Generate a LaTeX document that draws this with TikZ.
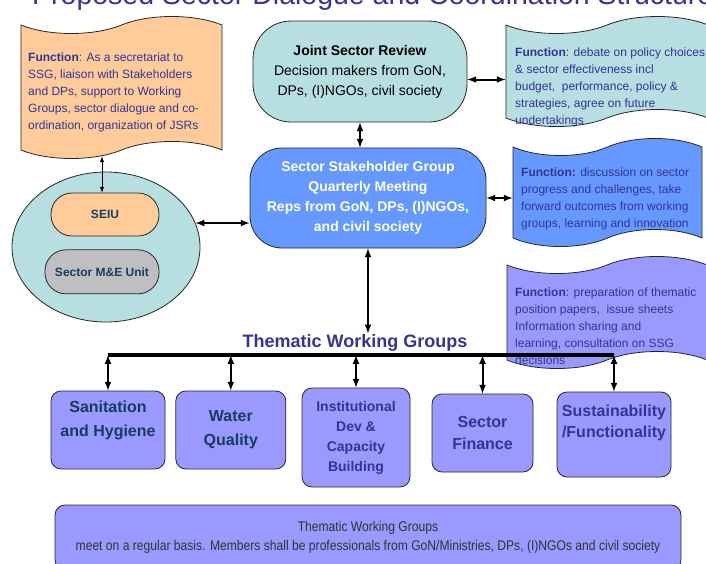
\documentclass[tikz,border=0pt]{standalone}
\usepackage{fontspec}
\setmainfont{Liberation Sans}
\newfontfamily\narrowfont[FakeStretch=0.865]{Liberation Sans}
\usepackage{tikz}
\usetikzlibrary{shapes,arrows,positioning}
\definecolor{tblue}{RGB}{51, 51, 153}
\definecolor{navy}{RGB}{24, 60, 96}
\definecolor{sea}{RGB}{183, 222, 225}
\definecolor{peach}{RGB}{255, 204, 153}
\definecolor{sky}{RGB}{102, 153, 255}
\definecolor{lilac}{RGB}{153, 153, 255}
\definecolor{stone}{RGB}{191, 191, 191}
\tikzstyle{funcbox} = [tape, draw=black!85, line width=0.8pt, tape bend height=17pt, inner sep=0pt]
\tikzstyle{notetext} = [align=left, inner sep=0pt, text=tblue, font=\fontsize{12}{17}\selectfont]
\tikzstyle{mainbox} = [rectangle, draw=black!85, line width=0.8pt, align=center, font=\fontsize{14}{20}\selectfont]
\tikzstyle{unitbox} = [rectangle, rounded corners=21pt, draw=black!85, line width=0.8pt, text=navy, font=\bfseries\fontsize{12}{14}\selectfont]
\tikzstyle{groupbox} = [rectangle, rounded corners=10pt, draw=black!85, line width=0.8pt, fill=lilac, align=center, font=\bfseries\fontsize{16}{24}\selectfont]
\tikzstyle{tedge} = [draw, line width=2pt, >=latex, <->]

\begin{document}
\begin{tikzpicture}[x=1pt, y=-1pt]
\useasboundingbox (0,0) rectangle (706,563);
\clip (0,0) rectangle (706,563);

% title =============================
\node[anchor=base west, inner sep=0pt, text=tblue, font=\fontsize{28.5}{34}\selectfont] (title) at (32,4) {Proposed Sector Dialogue and Coordination Structure};

% function sheets
\node[funcbox, fill=peach, minimum width=201pt, minimum height=142pt] (func1) at (121.5,87.5) {};
\node[notetext, anchor=north west] (note1) at (28,53) {\textbf{Function}: As a secretariat to\\SSG, liaison with Stakeholders\\and DPs, support to Working\\Groups, sector dialogue and co-\\ordination, organization of JSRs};

\node[funcbox, fill=sea, minimum width=202pt, minimum height=110pt] (func2) at (607,71.5) {};
\node[notetext, anchor=north west] (note2) at (515,48) {\textbf{Function}: debate on policy choices\\\& sector effectiveness incl\\budget,\ \ performance, policy \&\\strategies, agree on future\\undertakings};

\node[funcbox, fill=sky, minimum width=189pt, minimum height=108pt] (func3) at (607.5,192.5) {};
\node[notetext, anchor=north west] (note3) at (521,168) {\textbf{Function:} discussion on sector\\progress and challenges, take\\forward outcomes from working\\groups, learning and innovation};

\node[funcbox, fill=lilac, minimum width=200pt, minimum height=112pt] (func4) at (607,312.5) {};
\node[notetext, anchor=north west] (note4) at (515,288) {\textbf{Function}: preparation of thematic\\position papers,\ \ issue sheets\\Information sharing and\\learning, consultation on SSG\\decisions};

% review and stakeholder group
\node[mainbox, rounded corners=38pt, fill=sea, minimum width=214pt, minimum height=101pt] (jsr) at (360,71.5) {\textbf{Joint Sector Review}\\Decision makers from GoN,\\DPs, (I)NGOs, civil society};
\node[mainbox, rounded corners=32pt, fill=sky, text=white, font=\bfseries\fontsize{14}{20}\selectfont, minimum width=236pt, minimum height=100pt] (ssg) at (368,198) {Sector Stakeholder Group\\Quarterly Meeting\\Reps from GoN, DPs, (I)NGOs,\\and civil society};

% units
\node[ellipse, draw=black!85, line width=0.8pt, fill=sea, minimum width=188pt, minimum height=150pt] (unitarea) at (106,247) {};
\node[unitbox, fill=peach, minimum width=108pt, minimum height=43pt] (seiu) at (105,214.5) {SEIU};
\node[unitbox, fill=stone, minimum width=114pt, minimum height=44pt, below=13pt of seiu, xshift=-3pt] (mande) {Sector M\&E Unit};

% working groups
\node[inner sep=1pt, text=tblue, font=\bfseries\fontsize{18}{22}\selectfont] (twg) at (355,343) {Thematic Working Groups};
\node[groupbox, text=navy, minimum width=114pt, minimum height=78pt, text depth=23pt] (san) at (108,430) {Sanitation\\and Hygiene};
\node[groupbox, text=navy, minimum width=110pt, minimum height=78pt, right=10pt of san] (wq) {Water\\Quality};
\node[groupbox, text=tblue, font=\bfseries\fontsize{14}{20}\selectfont, minimum width=108pt, minimum height=99pt] (inst) at (356,437.5) {Institutional\\Dev \&\\Capacity\\Building};
\node[groupbox, text=tblue, font=\bfseries\fontsize{16}{22}\selectfont, minimum width=101pt, minimum height=78pt] (fin) at (482.5,433) {Sector\\Finance};
\node[groupbox, text=tblue, font=\bfseries\fontsize{16}{21}\selectfont, minimum width=114pt, minimum height=85pt, text depth=27pt] (sus) at (614,434.5) {Sustainability\\/Functionality};

\node[rectangle, rounded corners=10pt, draw=black!85, line width=0.8pt, fill=lilac, align=center, text=black!80, font=\narrowfont\fontsize{14}{19}\selectfont, minimum width=626pt, minimum height=65pt] (meet) at (368,537.5) {Thematic Working Groups\\meet on a regular basis. Members shall be professionals from GoN/Ministries, DPs, (I)NGOs and civil society};

% edges
\coordinate (barl) at (san.north |- 0,355);
\coordinate (barr) at (sus.north |- 0,355);
\path[tedge, line width=1pt] ([xshift=-3pt]seiu.north) -- ([xshift=-3pt, yshift=-6pt]seiu.north |- func1.south);
\path[tedge] (unitarea.15) -- (unitarea.15 -| ssg.west);
\path[tedge] ([yshift=-8pt]jsr.east) -- ([yshift=-8pt]jsr.east -| func2.west);
\path[tedge] (jsr.south) -- (jsr.south |- ssg.north);
\path[tedge] (ssg.east) -- (ssg.east -| func3.west);
\path[tedge] (ssg.south) -- (ssg.south |- twg.north);

\path[tedge] (barl) -- (san.north);
\path[tedge] (wq.north |- barl) -- (wq.north);
\path[tedge] (inst.north |- barl) -- (inst.north);
\path[tedge] (fin.north |- barl) -- (fin.north);
\path[tedge] (barr) -- (sus.north);
\draw[line width=4pt] (barl) -- (barr);

\end{tikzpicture}
\end{document}
